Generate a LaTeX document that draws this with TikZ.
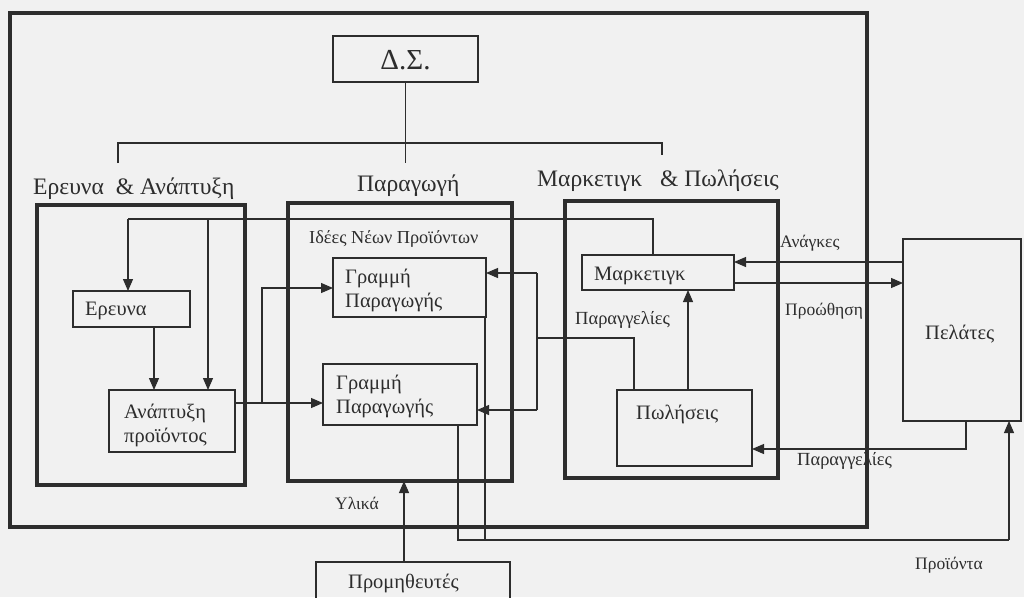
\documentclass[tikz,border=0pt]{standalone}
\usepackage{fontspec}
\setmainfont{Liberation Serif}
\usetikzlibrary{arrows.meta}
\definecolor{bg}{RGB}{241,241,241}
\definecolor{ink}{RGB}{45,45,45}
\begin{document}
\begin{tikzpicture}[x=1pt,y=-1pt,
  thick box/.style={draw=ink, line width=4pt, inner sep=0pt, outer sep=0pt},
  thin box/.style={draw=ink, line width=1.1pt, inner sep=0pt, outer sep=0pt},
  wire/.style={draw=ink, line width=1.1pt},
  arr/.style={wire, -{Triangle[length=12pt,width=10pt]}},
  title/.style={text=ink, anchor=west, inner sep=0pt, font=\fontsize{23.6}{25}\selectfont},
  boxtext/.style={text=ink, anchor=west, inner sep=0pt, align=left, font=\fontsize{20.5}{24}\selectfont},
  small/.style={text=ink, anchor=west, inner sep=0pt, font=\fontsize{17.5}{19}\selectfont},
  orders/.style={text=ink, anchor=west, inner sep=0pt, font=\fontsize{18.5}{19}\selectfont}]
\useasboundingbox (0,0) rectangle (1024,597);
\clip (0,0) rectangle (1024,597);
\fill[bg] (0,0) rectangle (1024,597);
% small labels (drawn first: the outer frame passes over some of them)
\node[small, font=\fontsize{18.3}{19}\selectfont] (ideas) at (309,239) {Ιδέες Νέων Προϊόντων};
\node[orders] (par1) at (575,320) {Παραγγελίες};
\node[small] (anag) at (780,243) {Ανάγκες};
\node[small] (proo) at (785,311) {Προώθηση};
\node[orders] (par2) at (797,461) {Παραγγελίες};
\node[small] (proi) at (915,565) {Προϊόντα};
\node[small] (ylika) at (335,503) {Υλικά};
% boxes
\node[thick box, minimum width=857pt, minimum height=514pt] (outer) at (438.5,270) {};
\node[thin box, minimum width=145pt, minimum height=46pt] (ds) at (405.5,59) {};
\node[text=ink, font=\fontsize{29}{31}\selectfont] (dst) at (405.5,60) {Δ.Σ.};
\node[thick box, minimum width=208pt, minimum height=280pt] (rd) at (141,345) {};
\node[thick box, minimum width=224pt, minimum height=278pt] (pr) at (400,342) {};
\node[thick box, minimum width=213pt, minimum height=277pt] (mk) at (671.5,339.5) {};
\node[thin box, minimum width=118pt, minimum height=182pt] (pel) at (962,330) {};
\node[thin box, minimum width=117pt, minimum height=36pt] (er) at (131.5,309) {};
\node[thin box, minimum width=126pt, minimum height=62pt] (an) at (172,421) {};
\node[thin box, minimum width=153pt, minimum height=59pt] (gp1) at (409.5,287.5) {};
\node[thin box, minimum width=154pt, minimum height=61pt] (gp2) at (400,394.5) {};
\node[thin box, minimum width=152pt, minimum height=35pt] (mar) at (658,272.5) {};
\node[thin box, minimum width=135pt, minimum height=76pt] (pol) at (684.5,428) {};
\node[thin box, minimum width=194pt, minimum height=50pt] (prom) at (413,587) {};
% titles
\node[title] (trd) at (33,189) {Ερευνα \ \& Ανάπτυξη};
\node[title] (tpr) at (357,186) {Παραγωγή};
\node[title] (tmk) at (537,181) {Μαρκετιγκ \ \ \& Πωλήσεις};
% box texts
\node[boxtext] (ert) at (85,311) {Ερευνα};
\node[boxtext] (ant) at (124,425) {Ανάπτυξη\\προϊόντος};
\node[boxtext] (gp1t) at (345,290) {Γραμμή\\Παραγωγής};
\node[boxtext] (gp2t) at (336,396) {Γραμμή\\Παραγωγής};
\node[boxtext] (mart) at (594,276) {Μαρκετιγκ};
\node[boxtext] (polt) at (636,414) {Πωλήσεις};
\node[boxtext] (pelt) at (925,334) {Πελάτες};
\node[boxtext] (promt) at (348,583) {Προμηθευτές};
% coordinates
\coordinate (dsend) at (405.5,163);
\coordinate (hl) at (118,143);
\coordinate (hlt) at (118,163);
\coordinate (hr) at (662,143);
\coordinate (hrt) at (662,155);
\coordinate (t1) at (653,219);
\coordinate (t2) at (128,219);
\coordinate (t3) at (208,219);
\coordinate (b1) at (262,403);
\coordinate (b2) at (262,288);
\coordinate (m1) at (634,338);
\coordinate (m2) at (537,338);
\coordinate (m3) at (537,273);
\coordinate (m4) at (537,410);
\coordinate (p1) at (966,449);
\coordinate (q1) at (458,540);
\coordinate (q2) at (1009,540);
\coordinate (q3) at (485,540);
% org chart lines
\draw[wire] (ds.south) -- (dsend);
\draw[wire] (hlt) -- (hl) -- (hr) -- (hrt);
% ideas loop
\draw[wire] (mar.north -| t1) -- (t1) -- (t2);
\draw[arr] (t2) -- (er.north -| t2);
\draw[arr] (t3) -- (an.north -| t3);
\draw[arr] (er.south -| 154,0) -- (an.north -| 154,0);
% R&D to production
\draw[arr] (an.east |- b1) -- (gp2.west |- b1);
\draw[arr] (b1) -- (b2) -- (gp1.west |- b2);
% orders from sales to production
\draw[wire] (pol.north -| m1) -- (m1) -- (m2);
\draw[wire] (m3) -- (m4);
\draw[arr] (m3) -- (gp1.east |- m3);
\draw[arr] (m4) -- (gp2.east |- m4);
\draw[arr] (pol.north -| 688,0) -- (mar.south -| 688,0);
% customers
\draw[arr] (pel.west |- 0,262) -- (mar.east |- 0,262);
\draw[arr] (mar.east |- 0,283) -- (pel.west |- 0,283);
\draw[arr] (pel.south -| p1) -- (p1) -- (pol.east |- p1);
% products
\draw[wire] (gp2.south -| q1) -- (q1) -- (q2);
\draw[arr] (q2) -- (pel.south -| q2);
\draw[wire] (gp1.south -| q3) -- (q3);
% supplies
\draw[arr] (prom.north -| 404,0) -- (pr.south -| 404,0);
\end{tikzpicture}
\end{document}
